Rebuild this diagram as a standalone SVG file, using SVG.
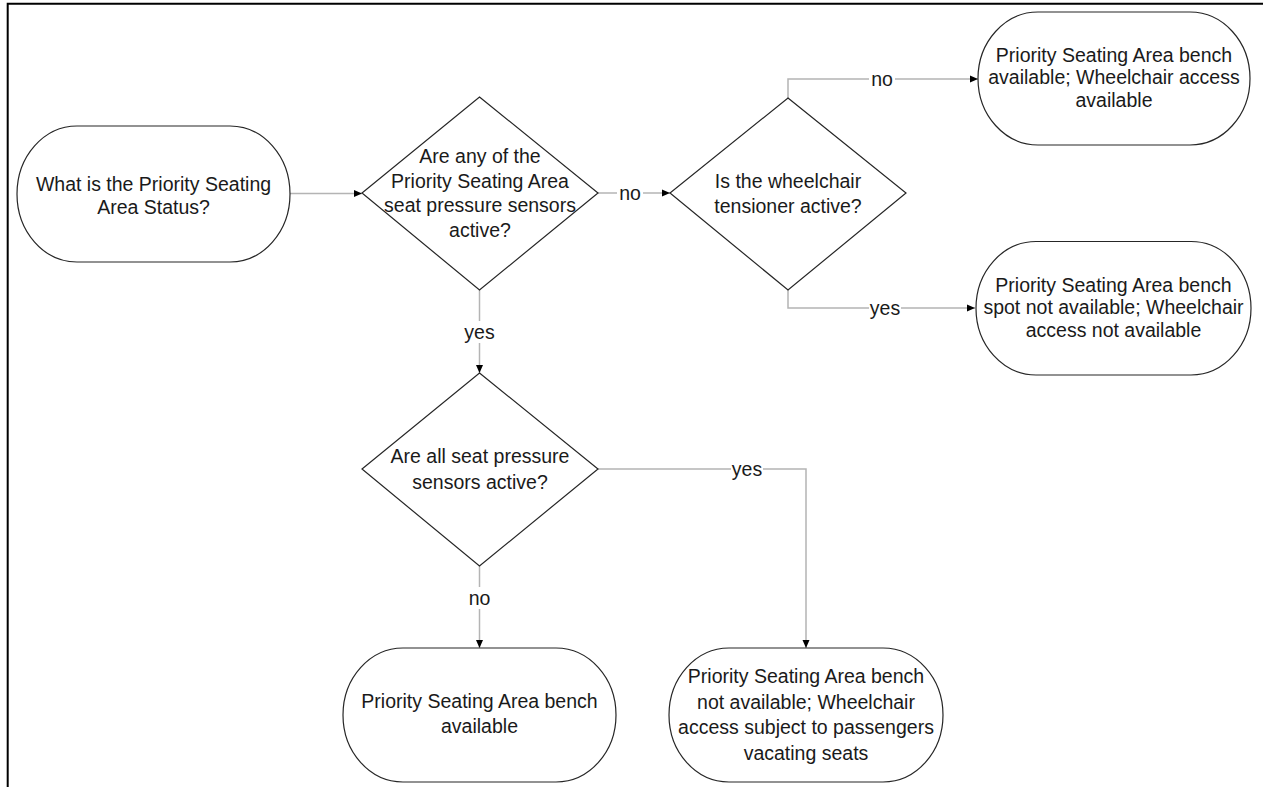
<svg xmlns="http://www.w3.org/2000/svg" width="1266" height="787" viewBox="0 0 1266 787">
<defs>
<style>
.node{fill:#ffffff;stroke:#262626;stroke-width:1.2}
.conn{fill:none;stroke:#b4b4b4;stroke-width:1.5}
.t{font-family:"Liberation Sans",Arial,sans-serif;font-size:19.5px;fill:#1a1a1a;text-anchor:middle}
.lbl{fill:#ffffff;stroke:none}
</style>
<marker id="arr" markerUnits="userSpaceOnUse" markerWidth="9" markerHeight="8" refX="8" refY="4" orient="auto">
<path d="M0,0.5 L8,4 L0,7.5 z" fill="#000000"/>
</marker>
</defs>
<rect x="0" y="0" width="1266" height="787" fill="#ffffff"/>
<path d="M7.7,787 V3.7 H1263" fill="none" stroke="#000000" stroke-width="2"/>

<g id="connectors">
<path class="conn" d="M290,193.5 H362" marker-end="url(#arr)"/>
<path class="conn" d="M598,193 H670" marker-end="url(#arr)"/>
<path class="conn" d="M788,98 V79 H978" marker-end="url(#arr)"/>
<path class="conn" d="M788,290 V308 H975" marker-end="url(#arr)"/>
<path class="conn" d="M479.5,290 V373" marker-end="url(#arr)"/>
<path class="conn" d="M598,469 H806 V648" marker-end="url(#arr)"/>
<path class="conn" d="M479.5,566 V648" marker-end="url(#arr)"/>
<rect class="lbl" x="617" y="182" width="26" height="22"/>
<text class="t" x="630" y="200">no</text>
<rect class="lbl" x="869" y="68" width="26" height="22"/>
<text class="t" x="882" y="86">no</text>
<rect class="lbl" x="869" y="297" width="32" height="22"/>
<text class="t" x="885" y="315">yes</text>
<rect class="lbl" x="463" y="321" width="32" height="22"/>
<text class="t" x="479.5" y="339">yes</text>
<rect class="lbl" x="731" y="458" width="32" height="22"/>
<text class="t" x="747" y="476">yes</text>
<rect class="lbl" x="466" y="587" width="26" height="22"/>
<text class="t" x="479.5" y="605">no</text>
</g>

<g id="start">
<rect class="node" x="17" y="126" width="273" height="136" rx="60" ry="68"/>
<text class="t" x="153.5" y="191">What is the Priority Seating</text>
<text class="t" x="153.5" y="214">Area Status?</text>
</g>

<g id="decision-any">
<polygon class="node" points="479.5,97 598,193 479.5,290 362,193"/>
<text class="t" x="480" y="163">Are any of the</text>
<text class="t" x="480" y="187.5">Priority Seating Area</text>
<text class="t" x="480" y="212">seat pressure sensors</text>
<text class="t" x="480" y="236.5">active?</text>
</g>

<g id="decision-wheelchair">
<polygon class="node" points="788,98 906,193 788,290 670,193"/>
<text class="t" x="788" y="188">Is the wheelchair</text>
<text class="t" x="788" y="213">tensioner active?</text>
</g>

<g id="decision-all">
<polygon class="node" points="479.5,373 598,469 479.5,566 362,469"/>
<text class="t" x="480" y="463">Are all seat pressure</text>
<text class="t" x="480" y="488.5">sensors active?</text>
</g>

<g id="result-available-wheelchair">
<rect class="node" x="978" y="12" width="272" height="133" rx="60" ry="66.5"/>
<text class="t" x="1114" y="61.5">Priority Seating Area bench</text>
<text class="t" x="1114" y="84">available; Wheelchair access</text>
<text class="t" x="1114" y="106.5">available</text>
</g>

<g id="result-not-available">
<rect class="node" x="976" y="241.5" width="275" height="133.5" rx="60" ry="66.75"/>
<text class="t" x="1113.5" y="291.5">Priority Seating Area bench</text>
<text class="t" x="1113.5" y="314">spot not available; Wheelchair</text>
<text class="t" x="1113.5" y="336.5">access not available</text>
</g>

<g id="result-bench-available">
<rect class="node" x="343" y="648" width="273" height="134" rx="60" ry="67"/>
<text class="t" x="479.5" y="708">Priority Seating Area bench</text>
<text class="t" x="479.5" y="733">available</text>
</g>

<g id="result-subject">
<rect class="node" x="669" y="648" width="274" height="134" rx="60" ry="67"/>
<text class="t" x="806" y="683">Priority Seating Area bench</text>
<text class="t" x="806" y="708.5">not available; Wheelchair</text>
<text class="t" x="806" y="734">access subject to passengers</text>
<text class="t" x="806" y="759.5">vacating seats</text>
</g>
</svg>
